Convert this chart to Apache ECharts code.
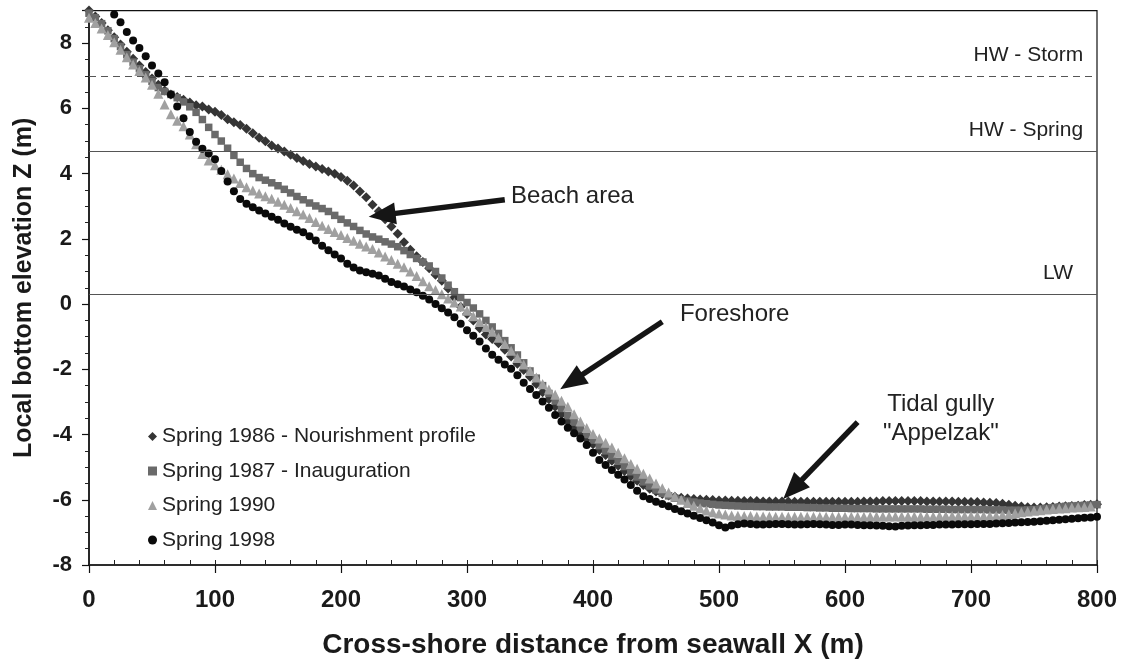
<!DOCTYPE html>
<html>
<head>
<meta charset="utf-8">
<script src="https://cdn.jsdelivr.net/npm/echarts@6/dist/echarts.min.js"></script>
<style>
html,body{margin:0;padding:0;background:#fff;}
#chart{width:1122px;height:664px;}
</style>
</head>
<body>
<div id="chart"></div>
<script>
// Cross-shore distance sampling (m): profiles sampled every 5 m from 0 to 800
const X_START = 0;
const X_STEP = 5;

// Spring 1986 - Nourishment profile
const z1986 = [9.0,8.82,8.62,8.4,8.18,7.96,7.74,7.52,7.32,7.12,6.92,6.73,6.55,6.43,6.35,6.27,6.18,6.1,6.06,5.97,
5.9,5.8,5.67,5.58,5.49,5.38,5.24,5.1,4.99,4.86,4.77,4.68,4.58,4.48,4.39,4.3,4.22,4.14,4.07,4.0,
3.9,3.78,3.64,3.45,3.28,3.05,2.85,2.6,2.38,2.16,1.9,1.67,1.47,1.29,1.1,0.9,0.72,0.48,0.2,-0.08,
-0.3,-0.5,-0.74,-0.93,-1.07,-1.2,-1.4,-1.61,-1.83,-2.02,-2.23,-2.45,-2.7,-2.92,-3.15,-3.38,-3.6,-3.8,-3.98,-4.14,
-4.3,-4.47,-4.63,-4.8,-4.96,-5.12,-5.28,-5.42,-5.55,-5.66,-5.75,-5.82,-5.87,-5.91,-5.94,-5.96,-5.98,-5.99,-6.0,-6.01,
-6.02,-6.02,-6.03,-6.03,-6.04,-6.04,-6.04,-6.05,-6.05,-6.05,-6.05,-6.05,-6.06,-6.06,-6.06,-6.06,-6.06,-6.06,-6.06,-6.06,
-6.06,-6.06,-6.06,-6.05,-6.05,-6.05,-6.04,-6.04,-6.04,-6.04,-6.04,-6.04,-6.04,-6.05,-6.05,-6.05,-6.05,-6.05,-6.06,-6.06,
-6.07,-6.07,-6.08,-6.09,-6.1,-6.12,-6.15,-6.18,-6.21,-6.23,-6.24,-6.24,-6.23,-6.22,-6.21,-6.2,-6.19,-6.18,-6.16,-6.15,-6.14];

// Spring 1987 - Inauguration
const z1987 = [8.92,8.78,8.6,8.38,8.14,7.9,7.65,7.42,7.22,7.03,6.83,6.64,6.52,6.43,6.33,6.2,6.05,5.88,5.66,5.42,
5.2,5.0,4.78,4.56,4.35,4.16,4.0,3.88,3.8,3.72,3.63,3.52,3.41,3.3,3.2,3.1,3.01,2.93,2.84,2.72,
2.6,2.49,2.38,2.26,2.15,2.06,1.99,1.91,1.84,1.76,1.64,1.52,1.4,1.29,1.17,1.0,0.8,0.58,0.38,0.2,
0.05,-0.12,-0.3,-0.5,-0.7,-0.9,-1.12,-1.34,-1.56,-1.8,-2.05,-2.27,-2.5,-2.74,-2.97,-3.2,-3.42,-3.62,-3.82,-4.0,
-4.17,-4.34,-4.5,-4.66,-4.82,-4.98,-5.14,-5.3,-5.45,-5.58,-5.7,-5.8,-5.88,-5.95,-6.0,-6.04,-6.07,-6.1,-6.12,-6.14,
-6.16,-6.17,-6.18,-6.19,-6.2,-6.2,-6.21,-6.21,-6.22,-6.22,-6.22,-6.23,-6.23,-6.23,-6.24,-6.24,-6.25,-6.25,-6.26,-6.26,
-6.26,-6.27,-6.27,-6.27,-6.27,-6.28,-6.28,-6.28,-6.28,-6.28,-6.28,-6.28,-6.28,-6.29,-6.29,-6.29,-6.29,-6.3,-6.3,-6.3,
-6.3,-6.3,-6.3,-6.31,-6.31,-6.31,-6.32,-6.32,-6.32,-6.31,-6.3,-6.28,-6.26,-6.24,-6.22,-6.2,-6.19,-6.18,-6.17,-6.16,-6.15];

// Spring 1990
const z1990 = [8.78,8.62,8.45,8.25,8.03,7.8,7.57,7.35,7.15,6.95,6.73,6.45,6.12,5.82,5.62,5.45,5.2,4.9,4.6,4.4,
4.26,4.12,3.98,3.85,3.71,3.58,3.48,3.39,3.31,3.23,3.14,3.05,2.95,2.85,2.75,2.64,2.52,2.4,2.3,2.21,
2.12,2.03,1.94,1.85,1.77,1.69,1.58,1.46,1.35,1.24,1.13,1.0,0.86,0.7,0.55,0.43,0.3,0.17,0.05,-0.07,
-0.2,-0.37,-0.55,-0.7,-0.85,-1.03,-1.22,-1.43,-1.65,-1.85,-2.05,-2.25,-2.45,-2.62,-2.78,-2.96,-3.15,-3.38,-3.6,-3.8,
-3.98,-4.12,-4.25,-4.4,-4.56,-4.73,-4.9,-5.05,-5.2,-5.35,-5.5,-5.65,-5.78,-5.9,-6.0,-6.1,-6.18,-6.26,-6.33,-6.38,
-6.42,-6.45,-6.48,-6.49,-6.5,-6.5,-6.51,-6.51,-6.51,-6.52,-6.52,-6.52,-6.52,-6.52,-6.52,-6.52,-6.52,-6.52,-6.52,-6.52,
-6.52,-6.52,-6.52,-6.52,-6.51,-6.51,-6.51,-6.51,-6.51,-6.51,-6.51,-6.51,-6.51,-6.51,-6.51,-6.5,-6.5,-6.5,-6.5,-6.5,
-6.5,-6.5,-6.5,-6.5,-6.49,-6.47,-6.44,-6.41,-6.38,-6.36,-6.34,-6.32,-6.3,-6.28,-6.27,-6.26,-6.24,-6.23,-6.22,-6.21];

// Spring 1998 (first points above the plotted range)
const z1998 = [null,null,null,9.08,8.88,8.64,8.34,8.08,7.85,7.6,7.32,7.07,6.8,6.43,6.06,5.7,5.28,4.98,4.76,4.62,
4.44,4.08,3.76,3.46,3.22,3.08,2.97,2.87,2.78,2.68,2.59,2.47,2.37,2.28,2.2,2.08,1.95,1.79,1.65,1.52,
1.4,1.24,1.12,1.03,0.98,0.93,0.88,0.78,0.68,0.61,0.54,0.45,0.36,0.26,0.14,0.0,-0.13,-0.26,-0.4,-0.6,
-0.8,-0.97,-1.15,-1.36,-1.55,-1.71,-1.85,-1.98,-2.18,-2.41,-2.6,-2.79,-2.99,-3.18,-3.4,-3.6,-3.79,-3.96,-4.12,-4.32,
-4.56,-4.78,-4.93,-5.09,-5.23,-5.38,-5.55,-5.72,-5.89,-5.98,-6.06,-6.13,-6.2,-6.28,-6.35,-6.42,-6.49,-6.56,-6.63,-6.7,
-6.78,-6.85,-6.79,-6.75,-6.73,-6.74,-6.76,-6.76,-6.75,-6.74,-6.74,-6.75,-6.76,-6.76,-6.75,-6.74,-6.75,-6.76,-6.77,-6.77,
-6.76,-6.76,-6.77,-6.78,-6.78,-6.79,-6.8,-6.81,-6.82,-6.8,-6.79,-6.78,-6.78,-6.77,-6.77,-6.76,-6.76,-6.76,-6.75,-6.75,
-6.75,-6.74,-6.74,-6.74,-6.73,-6.72,-6.71,-6.7,-6.69,-6.68,-6.67,-6.66,-6.64,-6.63,-6.61,-6.6,-6.58,-6.57,-6.55,-6.54,-6.52];

const seriesNames = ['Spring 1986 - Nourishment profile','Spring 1987 - Inauguration','Spring 1990','Spring 1998'];
const seriesValues = [z1986, z1987, z1990, z1998];

// Reference water levels (m)
const refLevels = [7.0, 4.7, 0.3];
const refLabels = ['HW - Storm', 'HW - Spring', 'LW'];
const refLabelX = [789, 789, 781];

// Axis ticks
const xTicks = [0,100,200,300,400,500,600,700,800];
const yTicks = [-8,-6,-4,-2,0,2,4,6,8];

// Annotations (data coordinates)
const annoTexts = ['Beach area','Foreshore','Tidal gully','"Appelzak"'];
const annoTextPos = [[335,3.31],[469,-0.32],[676,-3.07],[676,-3.96]];
const annoAlign = ['left','left','center','center'];
const arrowTails = [[330,3.2],[455,-0.54],[610,-3.62]];
const arrowTips = [[222,2.68],[374,-2.61],[551,-5.98]];

const FONT = '"Liberation Sans", Arial, Helvetica, sans-serif';
const colors = ['#353535','#6a6a6a','#a0a0a0','#0a0a0a'];
const symbols = ['diamond','rect','triangle','circle'];
const symbolSizes = [10,7.5,10,8];

function toPairs(vals){
  const out = [];
  vals.forEach((v,i)=>{ if(v!==null) out.push([X_START + i*X_STEP, v]); });
  return out;
}

const chart = echarts.init(document.getElementById('chart'), null, {renderer:'canvas'});

const series = seriesNames.map((n,k)=>({
  name:n, type:'scatter', data:toPairs(seriesValues[k]),
  symbol:symbols[k], symbolSize:symbolSizes[k],
  itemStyle:{color:colors[k], opacity:1},
  xAxisIndex:0, yAxisIndex:0, silent:true, animation:false, clip:true
}));

series.push({
  name:'levels', type:'line', data:[], xAxisIndex:0, yAxisIndex:0, silent:true, animation:false,
  markLine:{
    silent:true, symbol:['none','none'], animation:false,
    label:{show:false},
    data: refLevels.map((v,i)=>({yAxis:v, lineStyle:{color:'#555', width:1, type: i===0 ? [7,5] : 'solid'}}))
  }
});

chart.setOption({
  animation:false,
  backgroundColor:'#ffffff',
  grid:{left:89, right:25, top:10.6, bottom:98, show:true, borderColor:'#111', borderWidth:1.2, containLabel:false},
  legend:{
    data: seriesNames.map((n,k)=>({name:n, icon:symbols[k]})),
    orient:'vertical', left:143, top:421, itemWidth:9, itemHeight:9, itemGap:13.5,
    textStyle:{fontFamily:FONT, fontSize:21, color:'#222'},
    selectedMode:false
  },
  xAxis:[{
    type:'value', min:0, max:800, interval:100, position:'bottom',
    name:'Cross-shore distance from seawall X (m)', nameLocation:'middle', nameGap:66,
    nameTextStyle:{fontFamily:FONT, fontSize:28, fontWeight:'bold', color:'#1a1a1a'},
    axisLine:{show:true, onZero:false, lineStyle:{color:'#111', width:1.5}},
    axisTick:{show:true, inside:false, length:8, lineStyle:{color:'#111', width:1.2}},
    axisLabel:{show:true, margin:23, fontFamily:FONT, fontSize:24, fontWeight:'bold', color:'#1a1a1a',
      formatter:(v)=> xTicks.indexOf(v)>=0 ? String(v) : ''},
    splitLine:{show:false}
  },{
    type:'value', min:0, max:800, interval:20, position:'bottom',
    axisLine:{show:false, onZero:false},
    axisTick:{show:true, inside:true, length:5, lineStyle:{color:'#222', width:1}},
    axisLabel:{show:false}, splitLine:{show:false}
  }],
  yAxis:[{
    type:'value', min:-8, max:9, interval:2,
    name:'Local bottom elevation Z (m)', nameLocation:'middle', nameGap:52, nameRotate:90,
    nameTextStyle:{fontFamily:FONT, fontSize:25, fontWeight:'bold', color:'#1a1a1a'},
    axisLine:{show:true, onZero:false, lineStyle:{color:'#111', width:1.5}},
    axisTick:{show:true, inside:false, length:7, lineStyle:{color:'#111', width:1.2}},
    minorTick:{show:true, splitNumber:4, length:4, lineStyle:{color:'#222', width:1}},
    axisLabel:{show:true, margin:17, fontFamily:FONT, fontSize:22, fontWeight:'bold', color:'#1a1a1a',
      showMaxLabel:false, formatter:(v)=> yTicks.indexOf(v)>=0 ? String(v) : ''},
    splitLine:{show:false}
  }],
  series: series
});

function px(p){ return chart.convertToPixel({xAxisIndex:0, yAxisIndex:0}, p); }

const graphics = [];
// reference level labels
refLevels.forEach((lv,i)=>{
  const p = px([refLabelX[i], lv]);
  graphics.push({type:'text', silent:true, z:100, style:{
    x:p[0], y:p[1]-21, text:refLabels[i], textAlign:'right', textVerticalAlign:'middle',
    font:'21px '+FONT, fill:'#222'}});
});
// annotation texts
annoTexts.forEach((t,i)=>{
  const p = px(annoTextPos[i]);
  graphics.push({type:'text', silent:true, z:100, style:{
    x:p[0], y:p[1], text:t, textAlign:annoAlign[i], textVerticalAlign:'middle',
    font:'24px '+FONT, fill:'#222'}});
});
// arrows
arrowTails.forEach((tl,i)=>{
  const a = px(tl), b = px(arrowTips[i]);
  const dx = b[0]-a[0], dy = b[1]-a[1];
  const L = Math.sqrt(dx*dx+dy*dy);
  const ux = dx/L, uy = dy/L, nx = -uy, ny = ux;
  const headL = 27, headW = 11;
  const bx = b[0]-ux*headL, by = b[1]-uy*headL;
  graphics.push({type:'line', silent:true, z:101, shape:{x1:a[0], y1:a[1], x2:bx+ux*4, y2:by+uy*4},
    style:{stroke:'#151515', lineWidth:5.5, lineCap:'butt'}});
  graphics.push({type:'polygon', silent:true, z:101, shape:{points:[[b[0],b[1]],[bx+nx*headW,by+ny*headW],[bx-nx*headW,by-ny*headW]]},
    style:{fill:'#151515'}});
});
chart.setOption({graphic: graphics});
</script>
</body>
</html>
